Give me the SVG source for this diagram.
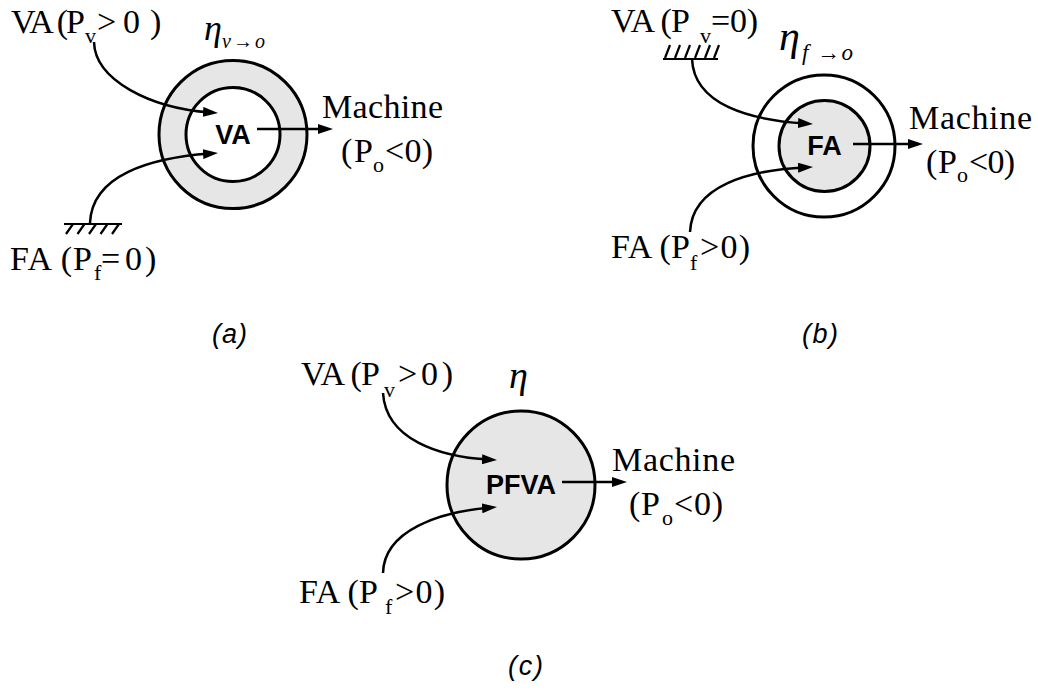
<svg xmlns="http://www.w3.org/2000/svg" width="1038" height="691" viewBox="0 0 1038 691">
  <style>
    .t { font-family: "Liberation Serif", "Times New Roman", serif; font-size: 34px; fill: #000; }
    .s { font-family: "Liberation Serif", "Times New Roman", serif; font-size: 22px; fill: #000; }
    .eta { font-family: "Liberation Serif", "Times New Roman", serif; font-style: italic; fill: #000; }
    .core { font-family: "Liberation Sans", Arial, sans-serif; font-weight: bold; font-size: 27px; text-anchor: middle; fill: #000; }
    .cap { font-family: "Liberation Sans", Arial, sans-serif; font-style: italic; font-size: 27px; fill: #000; }
    .ring { stroke: #000; stroke-width: 3; }
    .gray { fill: #e6e6e6; }
    .white { fill: #fff; }
    .wire { fill: none; stroke: #000; stroke-width: 2.5; marker-end: url(#arrow); }
    .ground { fill: none; stroke: #000; stroke-width: 2.2; }
  </style>
  <defs>
    <marker id="arrow" markerUnits="userSpaceOnUse" markerWidth="16" markerHeight="10" refX="7" refY="5" orient="auto">
      <path d="M0,0 L15,5 L0,10 z" fill="#000"/>
    </marker>
  </defs>

  <rect width="1038" height="691" fill="#fff"/>

  <!-- (a) virtual armature drives the machine, field armature grounded -->
  <g id="a-source-va">
    <text class="t" x="11" y="33" textLength="74">VA (P</text>
    <text class="s" x="85" y="43">v</text>
    <text class="t" x="97 123 150" y="33">&gt;0)</text>
  </g>
  <g id="a-source-fa">
    <path class="ground" d="M64,224 H122 M73,224 L66,234 M84.5,224 L77.5,234 M96,224 L89,234 M107.5,224 L100.5,234 M119,224 L112,234"/>
    <text class="t" x="10" y="270" textLength="82">FA (P</text>
    <text class="s" x="94" y="280">f</text>
    <text class="t" x="101 125 145" y="270">=0)</text>
  </g>
  <g id="a-converter">
    <circle class="ring gray" cx="233" cy="134.5" r="74"/>
    <circle class="ring white" cx="233" cy="134.5" r="47"/>
    <text class="core" x="233" y="144">VA</text>
    <text class="eta" x="204" y="40" font-size="36">η</text>
    <text class="eta" x="222" y="48" font-size="20" textLength="43">v→o</text>
  </g>
  <g id="a-machine">
    <text class="t" x="322" y="118" textLength="121">Machine</text>
    <text class="t" x="341" y="162" textLength="32">(P</text>
    <text class="s" x="373" y="172">o</text>
    <text class="t" x="385" y="162" textLength="48">&lt;0)</text>
  </g>
  <g id="a-caption">
    <text class="cap" x="212" y="343" textLength="35">(a)</text>
  </g>

  <!-- (b) field armature drives the machine, virtual armature grounded -->
  <g id="b-source-va">
    <text class="t" x="611" y="32" textLength="79">VA (P</text>
    <text class="s" x="700" y="43">v</text>
    <text class="t" x="711" y="32" textLength="47">=0)</text>
    <path class="ground" d="M663,59 H718 M665,58 L670,45 M675,58 L680,45 M685,58 L690,45 M695,58 L700,45 M705,58 L710,45 M714,58 L719,45"/>
  </g>
  <g id="b-source-fa">
    <text class="t" x="611" y="258" textLength="79">FA (P</text>
    <text class="s" x="690" y="270">f</text>
    <text class="t" x="700" y="258" textLength="50">&gt;0)</text>
  </g>
  <g id="b-converter">
    <circle class="ring white" cx="824" cy="146" r="71"/>
    <circle class="ring gray" cx="824.5" cy="146" r="45.5"/>
    <text class="core" x="824.5" y="155">FA</text>
    <text class="eta" x="779" y="50" font-size="42">η</text>
    <text class="eta" x="802" y="60" font-size="23" textLength="51">f →o</text>
  </g>
  <g id="b-machine">
    <text class="t" x="909" y="129" textLength="123">Machine</text>
    <text class="t" x="926" y="173" textLength="31">(P</text>
    <text class="s" x="957" y="182">o</text>
    <text class="t" x="969" y="173" textLength="46">&lt;0)</text>
  </g>
  <g id="b-caption">
    <text class="cap" x="802" y="343" textLength="36">(b)</text>
  </g>

  <!-- (c) both armatures feed the combined converter -->
  <g id="c-source-va">
    <text class="t" x="301" y="385" textLength="79">VA (P</text>
    <text class="s" x="384" y="397">v</text>
    <text class="t" x="398" y="385" textLength="55">&gt;0)</text>
  </g>
  <g id="c-source-fa">
    <text class="t" x="299" y="603" textLength="79">FA (P</text>
    <text class="s" x="385" y="614">f</text>
    <text class="t" x="395" y="603" textLength="50">&gt;0)</text>
  </g>
  <g id="c-converter">
    <circle class="ring gray" cx="521" cy="485" r="74"/>
    <text class="core" x="521" y="494">PFVA</text>
    <text class="eta" x="509" y="388" font-size="38">η</text>
  </g>
  <g id="c-machine">
    <text class="t" x="612" y="471" textLength="123">Machine</text>
    <text class="t" x="629" y="515" textLength="31">(P</text>
    <text class="s" x="662" y="525">o</text>
    <text class="t" x="674" y="515" textLength="49">&lt;0)</text>
  </g>
  <g id="c-caption">
    <text class="cap" x="508" y="675" textLength="35">(c)</text>
  </g>

  <!-- power flow connectors -->
  <g id="connectors">
    <path class="wire" d="M94,42 C95,80 150,108 210,112.4"/>
    <path class="wire" d="M90,223 C92,175 150,158 210,153.6"/>
    <path class="wire" d="M257,129 L325,129"/>

    <path class="wire" d="M692,59 C694,105 750,120 805,123.5"/>
    <path class="wire" d="M690,232 C692,185 750,170 805,167.4"/>
    <path class="wire" d="M853,144 L915,144"/>

    <path class="wire" d="M383,393 C386,440 440,457 489,459.6"/>
    <path class="wire" d="M383,573 C384,530 440,512 489,507.7"/>
    <path class="wire" d="M562,482 L619,482"/>
  </g>
</svg>
